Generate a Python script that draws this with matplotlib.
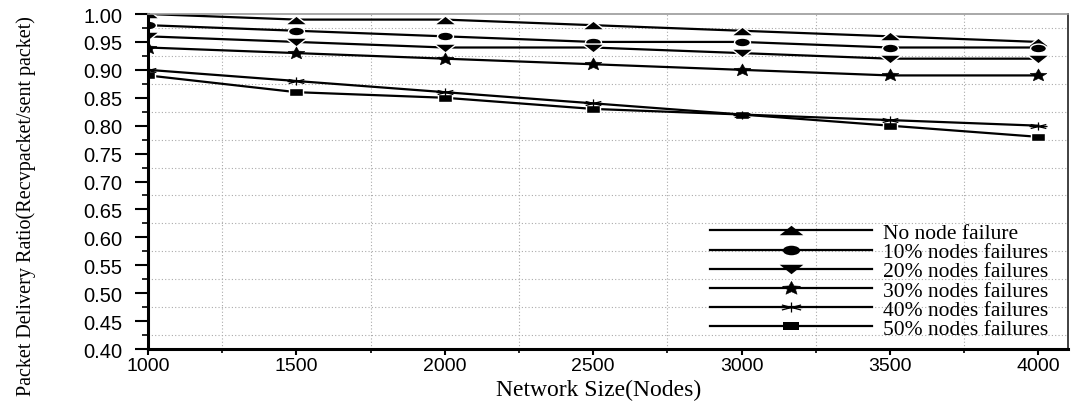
import numpy as np
import matplotlib
matplotlib.use("Agg")
import matplotlib.pyplot as plt
from matplotlib.path import Path
from matplotlib.ticker import MultipleLocator

# network sizes (nodes)
nodes = [1000, 1500, 2000, 2500, 3000, 3500, 4000]

# packet delivery ratio for each failure level
no_fail = [1.00, 0.99, 0.99, 0.98, 0.97, 0.96, 0.95]
fail_10 = [0.98, 0.97, 0.96, 0.95, 0.95, 0.94, 0.94]
fail_20 = [0.96, 0.95, 0.94, 0.94, 0.93, 0.92, 0.92]
fail_30 = [0.94, 0.93, 0.92, 0.91, 0.90, 0.89, 0.89]
fail_40 = [0.90, 0.88, 0.86, 0.84, 0.82, 0.81, 0.80]
fail_50 = [0.89, 0.86, 0.85, 0.83, 0.82, 0.80, 0.78]

labels = ["No node failure", "10% nodes failures", "20% nodes failures",
          "30% nodes failures", "40% nodes failures", "50% nodes failures"]
series = [no_fail, fail_10, fail_20, fail_30, fail_40, fail_50]

# the original figure is squashed vertically, so the markers are flat
tri_up = Path([(-1, -0.4), (1, -0.4), (0, 0.4), (-1, -0.4)], closed=True)
tri_dn = Path([(-1, 0.4), (1, 0.4), (0, -0.4), (-1, 0.4)], closed=True)
circ = Path(Path.unit_circle().vertices * [1, 0.55], Path.unit_circle().codes)
ang = np.pi / 2 + np.arange(10) * np.pi / 5
rad = np.where(np.arange(10) % 2 == 0, 1.0, 0.45)
star_v = np.c_[rad * np.cos(ang), rad * np.sin(ang) * 0.75]
star = Path(np.vstack([star_v, star_v[:1]]), closed=True)
sq = Path([(-1, -0.55), (1, -0.55), (1, 0.55), (-1, 0.55), (-1, -0.55)],
          closed=True)
ast_v, ast_c = [], []
for a in np.deg2rad([90, 30, 150]):
    ast_v += [(np.cos(a), np.sin(a) * 0.45), (-np.cos(a), -np.sin(a) * 0.45)]
    ast_c += [Path.MOVETO, Path.LINETO]
ast_v += [(-1, 0), (1, 0)]
ast_c += [Path.MOVETO, Path.LINETO]
asterisk = Path(ast_v, ast_c)

markers = [tri_up, circ, tri_dn, star, asterisk, sq]
msizes = [16, 11.5, 16, 12, 13, 10.5]
leg_sizes = [17, 12.5, 17, 13, 16, 11.5]

fig = plt.figure(figsize=(10.75, 4.10), dpi=100)
ax = fig.add_axes([0.1377, 0.1463, 0.8558, 0.8171])

for ys, lab, m, ms in zip(series, labels, markers, msizes):
    if m is asterisk:
        ax.plot(nodes, ys, color="black", lw=1.6, marker=m, ms=ms,
                mec="black", mfc="none", mew=0.9, label=lab, zorder=3)
    elif m is star:
        ax.plot(nodes, ys, color="black", lw=1.6, marker=m, ms=ms,
                mec="black", mfc="black", mew=0.4, label=lab, zorder=2)
    else:
        ax.plot(nodes, ys, color="black", lw=1.6, marker=m, ms=ms,
                mec="white", mfc="black", mew=1.0, label=lab, zorder=2)

ax.set_xlim(1000, 4100)
ax.set_ylim(0.40, 1.00)
ax.xaxis.set_major_locator(MultipleLocator(500))
ax.xaxis.set_minor_locator(MultipleLocator(250))
ax.yaxis.set_major_locator(MultipleLocator(0.05))
ax.yaxis.set_minor_locator(MultipleLocator(0.025))
ax.yaxis.set_major_formatter(plt.FormatStrFormatter("%.2f"))

ax.grid(which="minor", color="#aaaaaa", linestyle=(0, (1, 2)), lw=0.8)
ax.grid(which="major", visible=False)

ax.tick_params(axis="y", which="major", direction="out", length=9.5,
               width=1.5, labelsize=14.5, pad=9)
ax.tick_params(axis="y", which="minor", direction="out", length=4.3, width=1.2)
ax.tick_params(axis="x", which="major", direction="out", length=4,
               width=1.5, labelsize=14, pad=2)
ax.tick_params(axis="x", which="minor", direction="out", length=3, width=1.2)
for t in ax.get_xticklabels() + ax.get_yticklabels():
    t.set_family("Liberation Sans")

ax.spines["left"].set_linewidth(2.2)
ax.spines["bottom"].set_linewidth(2.2)
ax.spines["top"].set_color("#999999")
ax.spines["top"].set_linewidth(1.2)
ax.spines["right"].set_color("#333333")
ax.spines["right"].set_linewidth(1.3)

ax.set_xlabel("Network Size(Nodes)", family="Liberation Serif", fontsize=17)
ax.xaxis.set_label_coords(0.49, -0.088)
ax.set_ylabel("Packet Delivery Ratio(Recvpacket/sent packet)",
              family="Liberation Serif", fontsize=14.5)
ax.yaxis.set_label_coords(-0.122, 0.43)

leg = ax.legend(loc="lower right", bbox_to_anchor=(0.978, 0.03),
                frameon=False,
                prop={"family": "Liberation Serif", "size": 15.5},
                handlelength=7.5, handletextpad=0.5, labelspacing=-0.04,
                borderpad=0, borderaxespad=0)
for h, s in zip(leg.legend_handles, leg_sizes):
    h.set_markersize(s)
    if h.get_markeredgecolor() == "white":
        h.set_markeredgewidth(0)

fig.savefig("out.png", dpi=100)
